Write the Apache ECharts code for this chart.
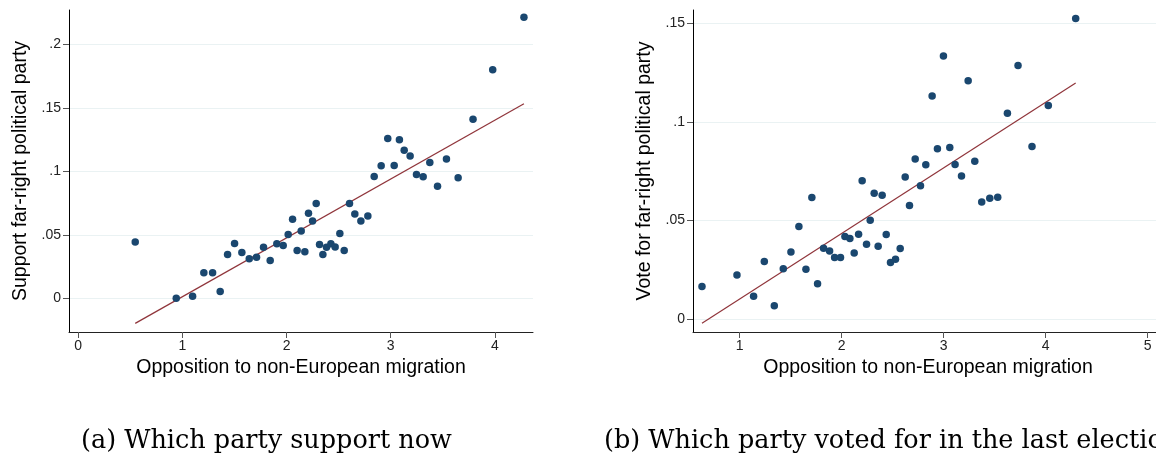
<!DOCTYPE html>
<html lang="en">
  <head>
    <meta charset="UTF-8" />
    <title>Far-right support and opposition to migration</title>
    <script src="https://cdn.jsdelivr.net/npm/echarts@6/dist/echarts.min.js"></script>
    <style>
      html, body { margin: 0; padding: 0; background: #fff; }
      #main { width: 1156px; height: 462px; }
    </style>
  </head>
  <body>
    <div id="main"></div>
  </body>
  <script>
    // (a) support now: x = opposition score, y = share supporting far-right
    const supportX = [0.547, 0.941, 1.098, 1.206, 1.290, 1.363, 1.434, 1.501, 1.571, 1.642,
      1.712, 1.779, 1.843, 1.907, 1.968, 2.016, 2.058, 2.102, 2.141, 2.176,
      2.211, 2.250, 2.285, 2.317, 2.349, 2.384, 2.426, 2.467, 2.512, 2.554,
      2.605, 2.656, 2.714, 2.781, 2.842, 2.909, 2.972, 3.034, 3.084, 3.130,
      3.187, 3.248, 3.312, 3.376, 3.450, 3.536, 3.648, 3.791, 3.980, 4.280];
    const supportY = [0.0445, 0.0003, 0.0018, 0.0203, 0.0203, 0.0055, 0.0347, 0.0434, 0.0363, 0.0313,
      0.0326, 0.0403, 0.0300, 0.0432, 0.0418, 0.0503, 0.0624, 0.0379, 0.0532, 0.0368,
      0.0671, 0.0611, 0.0747, 0.0426, 0.0347, 0.0403, 0.0432, 0.0405, 0.0511, 0.0379,
      0.0747, 0.0666, 0.0611, 0.0650, 0.0961, 0.1045, 0.1260, 0.1047, 0.1250, 0.1166,
      0.1121, 0.0976, 0.0958, 0.1071, 0.0884, 0.1097, 0.0950, 0.1410, 0.1800, 0.2212];
    // fitted line (end points)
    const supportFitX = [0.547, 4.280];
    const supportFitY = [-0.0195, 0.1532];

    // (b) voted for in last election
    const voteX = [0.631, 0.974, 1.137, 1.242, 1.340, 1.428, 1.503, 1.581, 1.650, 1.708,
      1.764, 1.823, 1.882, 1.931, 1.989, 2.032, 2.081, 2.123, 2.166, 2.201,
      2.244, 2.280, 2.319, 2.358, 2.397, 2.437, 2.479, 2.528, 2.574, 2.623,
      2.665, 2.721, 2.773, 2.825, 2.887, 2.939, 2.998, 3.060, 3.112, 3.175,
      3.240, 3.305, 3.373, 3.452, 3.530, 3.625, 3.729, 3.866, 4.026, 4.294];
    const voteY = [0.0164, 0.0223, 0.0115, 0.0291, 0.0067, 0.0254, 0.0340, 0.0469, 0.0252, 0.0616,
      0.0178, 0.0359, 0.0344, 0.0311, 0.0311, 0.0418, 0.0408, 0.0335, 0.0430, 0.0702,
      0.0379, 0.0501, 0.0638, 0.0369, 0.0628, 0.0428, 0.0286, 0.0303, 0.0357, 0.0720,
      0.0576, 0.0812, 0.0676, 0.0783, 0.1132, 0.0864, 0.1335, 0.0871, 0.0784, 0.0725,
      0.1210, 0.0801, 0.0593, 0.0613, 0.0618, 0.1044, 0.1287, 0.0876, 0.1084, 0.1526];
    const voteFitX = [0.631, 4.294];
    const voteFitY = [-0.0022, 0.1198];

    // tick values and labels
    const supportXTicks = [0, 1, 2, 3, 4];
    const supportYTicks = [0, 0.05, 0.1, 0.15, 0.2];
    const voteXTicks = [1, 2, 3, 4, 5];
    const voteYTicks = [0, 0.05, 0.1, 0.15];
    const yTickText = { 0: "0", 0.05: ".05", 0.1: ".1", 0.15: ".15", 0.2: ".2" };

    const xTitle = "Opposition to non-European migration";
    const captions = ["(a) Which party support now", "(b) Which party voted for in the last election"];

    const navy = "#1a476f";
    const maroon = "#90353b";
    const sans = "Liberation Sans";

    function pairs(xs, ys) {
      return xs.map(function (x, i) {
        return [x, ys[i]];
      });
    }

    function xAxis(idx, min, max, ticks) {
      return {
        type: "value",
        gridIndex: idx,
        min: min,
        max: max,
        name: xTitle,
        nameLocation: "middle",
        nameGap: 24,
        nameTextStyle: { fontFamily: sans, fontSize: 19.5, color: "#000" },
        axisLine: { show: true, onZero: false, lineStyle: { color: "#222", width: 1 } },
        axisTick: { show: true, length: 6, customValues: ticks, lineStyle: { color: "#555" } },
        axisLabel: {
          customValues: ticks,
          margin: 7,
          fontFamily: sans,
          fontSize: 14,
          color: "#222",
        },
        splitLine: { show: false },
      };
    }

    function yAxis(idx, min, max, ticks, name) {
      return {
        type: "value",
        gridIndex: idx,
        min: min,
        max: max,
        name: name,
        nameLocation: "middle",
        nameGap: 38,
        nameTextStyle: { fontFamily: sans, fontSize: 19.5, color: "#000" },
        axisLine: { show: true, onZero: false, lineStyle: { color: "#000", width: 1 } },
        axisTick: { show: true, length: 6, customValues: ticks, lineStyle: { color: "#555" } },
        axisLabel: {
          customValues: ticks,
          margin: 8,
          fontFamily: sans,
          fontSize: 14,
          color: "#222",
          formatter: function (v) {
            return yTickText[v] !== undefined ? yTickText[v] : String(v);
          },
        },
        splitLine: { show: true, lineStyle: { color: "#eaf2f3", width: 1 } },
      };
    }

    function dots(idx, xs, ys) {
      return {
        type: "scatter",
        xAxisIndex: idx,
        yAxisIndex: idx,
        data: pairs(xs, ys),
        symbol: "circle",
        symbolSize: 7.5,
        itemStyle: { color: navy, opacity: 1 },
        emphasis: { disabled: true },
        z: 3,
      };
    }

    function fit(idx, xs, ys) {
      return {
        type: "line",
        xAxisIndex: idx,
        yAxisIndex: idx,
        data: pairs(xs, ys),
        symbol: "none",
        showSymbol: false,
        lineStyle: { color: maroon, width: 1.2 },
        emphasis: { disabled: true },
        z: 2,
      };
    }

    var chartDom = document.getElementById("main");
    var myChart = echarts.init(chartDom, null, { renderer: "canvas" });
    var option = {
      backgroundColor: "#fff",
      animation: false,
      title: [
        {
          text: captions[0],
          left: 81,
          top: 428,
          padding: 0,
          textStyle: { fontFamily: "DejaVu Serif", fontSize: 25.5, fontWeight: "normal", color: "#000" },
        },
        {
          text: captions[1],
          left: 604,
          top: 428,
          padding: 0,
          textStyle: { fontFamily: "DejaVu Serif", fontSize: 25.5, fontWeight: "normal", color: "#000" },
        },
      ],
      grid: [
        { left: 69, top: 10, width: 464, height: 322, containLabel: false, outerBoundsMode: "none" },
        { left: 693, top: 10, width: 470, height: 322, containLabel: false, outerBoundsMode: "none" },
      ],
      xAxis: [
        xAxis(0, -0.089, 4.367, supportXTicks),
        xAxis(1, 0.543, 5.15, voteXTicks),
      ],
      yAxis: [
        yAxis(0, -0.0263, 0.227, supportYTicks, "Support far-right political party"),
        yAxis(1, -0.0067, 0.1569, voteYTicks, "Vote for far-right political party"),
      ],
      series: [
        fit(0, supportFitX, supportFitY),
        dots(0, supportX, supportY),
        fit(1, voteFitX, voteFitY),
        dots(1, voteX, voteY),
      ],
    };
    option && myChart.setOption(option);
  </script>
</html>
